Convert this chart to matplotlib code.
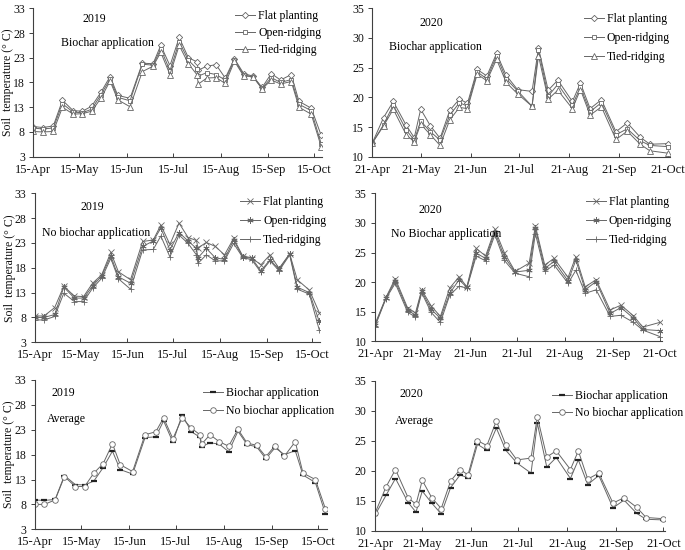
import matplotlib
matplotlib.use('Agg')
import matplotlib.pyplot as plt

plt.rcParams['font.family'] = ['Liberation Serif', 'DejaVu Serif']

# ---------------- data ----------------
# day offsets from 15-Apr (2019) and from 21-Apr (2020)
days_2019 = [0, 6, 13, 19, 26, 32, 38, 44, 50, 55, 63, 71, 78, 83, 89, 95, 101,
             106.5, 107.5, 113, 119, 125, 131, 137, 143, 149, 155, 161, 168, 173, 181, 187.5]
days_2020 = [0, 7, 13, 21, 26, 30, 36, 42, 48, 54, 59, 65, 71, 77, 83, 90, 99, 103,
             109, 115, 124, 129, 135, 142, 151, 158, 166, 172, 183]

tick_days = [0, 30, 61, 91, 122, 153, 183]
ticks_2019 = ['15-Apr', '15-May', '15-Jun', '15-Jul', '15-Aug', '15-Sep', '15-Oct']
ticks_2020 = ['21-Apr', '21-May', '21-Jun', '21-Jul', '21-Aug', '21-Sep', '21-Oct']

# 2019, biochar application
bc19_flat = [9.1, 8.9, 9.2, 14.4, 12.3, 12.2, 13.2, 16.0, 19.2, 15.4, 14.8, 21.9, 21.8, 25.5, 21.4, 27.1,
             23.0, 22.2, 20.5, 21.3, 21.6, 18.9, 22.8, 19.8, 19.3, 17.0, 19.8, 18.5, 19.6, 14.2, 12.8, 7.3]
bc19_open = [8.8, 8.6, 8.8, 13.7, 12.0, 11.9, 12.6, 15.5, 18.7, 15.0, 14.3, 21.7, 21.5, 24.8, 20.4, 26.2,
             22.5, 20.8, 19.3, 20.0, 19.6, 18.5, 22.6, 19.5, 19.2, 16.8, 19.0, 18.0, 18.6, 13.6, 12.3, 5.6]
bc19_tied = [8.1, 8.0, 8.1, 13.0, 11.6, 11.7, 12.2, 14.8, 18.3, 14.5, 13.1, 20.2, 21.3, 24.1, 19.6, 25.5,
             21.8, 19.6, 17.7, 18.9, 19.0, 17.8, 22.3, 19.3, 19.2, 16.7, 18.5, 17.7, 18.2, 13.0, 11.6, 5.0]

# 2019, no biochar application
nb19_flat = [8.3, 8.3, 10.0, 14.3, 12.3, 12.2, 14.9, 16.6, 21.1, 17.2, 15.6, 23.3, 23.6, 26.6, 22.7, 27.0,
             24.1, 23.5, 22.0, 23.1, 22.3, 20.6, 23.9, 20.4, 20.0, 18.6, 20.6, 17.9, 20.8, 15.6, 13.5, 9.0]
nb19_open = [8.0, 8.0, 8.6, 14.1, 11.9, 11.9, 14.3, 16.4, 20.4, 16.2, 14.9, 22.3, 23.4, 26.0, 21.6, 25.1,
             23.4, 21.9, 20.0, 21.9, 20.0, 19.7, 23.6, 20.2, 19.9, 17.4, 19.6, 17.7, 20.8, 14.1, 13.0, 7.2]
nb19_tied = [7.5, 7.5, 8.2, 12.9, 11.2, 11.2, 13.9, 15.9, 19.9, 15.8, 13.7, 21.6, 21.7, 24.4, 20.2, 24.6,
             22.9, 20.6, 18.9, 20.6, 19.4, 19.4, 22.9, 20.1, 19.6, 17.1, 19.4, 17.4, 20.6, 13.7, 12.7, 5.5]

# 2019 averages
avg19_bc = [8.9, 8.8, 9.0, 13.8, 12.0, 11.9, 12.7, 15.4, 18.7, 15.0, 14.1, 21.4, 21.6, 24.8, 20.5, 26.0,
            22.6, 21.5, 19.6, 20.4, 20.1, 18.6, 22.7, 20.0, 19.6, 17.2, 19.4, 18.0, 18.8, 13.9, 12.4, 6.1]
avg19_nb = [8.0, 8.0, 8.9, 13.6, 11.6, 11.6, 14.3, 16.2, 20.2, 16.0, 14.6, 22.0, 22.6, 25.4, 21.2, 25.4,
            23.3, 22.0, 20.1, 22.0, 20.6, 19.7, 23.1, 20.3, 19.9, 17.6, 19.8, 17.7, 20.6, 14.3, 13.0, 7.1]

# 2020, biochar application
bc20_flat = [12.3, 16.6, 19.3, 15.3, 13.2, 18.0, 15.2, 13.1, 17.8, 19.7, 19.0, 24.7, 23.6, 27.4, 23.7,
             21.3, 21.0, 28.3, 21.2, 22.9, 19.3, 22.4, 18.1, 19.6, 14.2, 15.7, 13.3, 12.1, 12.2]
bc20_open = [12.3, 15.4, 18.7, 14.5, 12.8, 16.0, 14.2, 12.8, 17.0, 19.1, 18.5, 24.3, 23.1, 27.0, 23.1,
             21.1, 18.5, 28.0, 20.2, 22.2, 18.7, 21.7, 17.6, 19.1, 13.7, 14.7, 12.7, 11.9, 11.7]
bc20_tied = [12.3, 15.2, 18.0, 13.7, 12.5, 15.5, 13.7, 11.9, 16.2, 18.3, 18.1, 23.9, 22.8, 26.4, 22.5,
             20.6, 18.5, 27.0, 19.7, 21.2, 18.1, 21.3, 17.0, 18.4, 12.9, 14.3, 12.1, 11.0, 10.6]

# 2020, no biochar application
nb20_flat = [12.9, 17.4, 20.6, 15.6, 14.8, 18.7, 16.0, 14.2, 19.0, 20.9, 19.2, 25.7, 24.4, 28.9, 25.0,
             21.8, 23.2, 29.5, 22.9, 24.0, 20.8, 24.3, 19.2, 20.4, 15.3, 16.1, 14.3, 12.4, 13.2]
nb20_open = [12.7, 17.3, 20.2, 15.3, 14.4, 18.5, 15.4, 13.9, 18.1, 20.4, 19.1, 24.9, 24.0, 28.5, 24.3,
             21.7, 22.0, 29.1, 22.3, 23.5, 20.2, 23.7, 18.7, 20.1, 14.7, 15.7, 13.9, 12.0, 11.8]
nb20_tied = [12.5, 17.2, 19.8, 14.9, 14.1, 18.2, 14.9, 13.2, 17.8, 19.3, 19.0, 24.4, 23.6, 28.0, 23.7,
             21.5, 20.9, 28.2, 21.8, 22.9, 19.8, 22.0, 18.1, 18.7, 14.2, 14.4, 13.2, 11.9, 10.8]

# 2020 averages
avg20_bc = [12.6, 15.9, 18.7, 14.7, 13.1, 16.6, 14.6, 12.8, 17.2, 19.3, 18.8, 24.4, 23.4, 27.1, 23.4,
            21.3, 19.6, 27.9, 20.6, 22.2, 18.7, 21.8, 17.7, 19.2, 13.8, 15.1, 12.9, 11.9, 11.8]
avg20_nb = [12.9, 17.3, 20.2, 15.5, 14.4, 18.4, 15.5, 13.7, 18.3, 20.2, 19.3, 25.0, 24.2, 28.3, 24.3,
            21.8, 22.1, 29.0, 22.3, 23.3, 20.2, 23.3, 18.6, 19.6, 14.6, 15.5, 13.9, 12.2, 12.0]

# ---------------- figure ----------------
W, H = 685, 550
fig = plt.figure(figsize=(W / 100, H / 100), dpi=100)
LC = '#666666'
AX = '#404040'


def make_ax(l, t, r, b):
    return fig.add_axes([l / W, 1 - b / H, (r - l) / W, (b - t) / H])


def style(ax, xlabels, xmax, ylo, yhi, ylabel):
    ax.set_xlim(0, xmax)
    ax.set_ylim(ylo, yhi)
    ax.set_xticks(tick_days)
    ax.set_xticklabels(xlabels)
    ax.set_yticks(range(ylo, yhi + 1, 5))
    for s in ['top', 'right']:
        ax.spines[s].set_visible(False)
    for s in ['left', 'bottom']:
        ax.spines[s].set_color(AX)
        ax.spines[s].set_linewidth(0.8)
    ax.tick_params(axis='x', direction='in', length=3, width=0.7, color=AX,
                   labelsize=9, pad=5, labelcolor='#111')
    ax.tick_params(axis='y', direction='out', length=3, width=0.7, color=AX,
                   labelsize=8.5, pad=3, labelcolor='#111')
    if ylabel:
        ax.set_ylabel('Soil  temperature (° C)', fontsize=8.5, color='#111')
        ax.yaxis.set_label_coords(-0.068, 0.5)


def series(ax, x, y, marker, label, ms=4.0, mec=LC, mfc='white', mew=0.6):
    ax.plot(x, y, color=LC, lw=0.7, marker=marker, ms=ms, mfc=mfc, mec=mec, mew=mew,
            label=label)


def legend(ax, x, y, spacing):
    ax.legend(loc='upper left', bbox_to_anchor=(x, y), frameon=False, fontsize=8.5,
              handlelength=1.7, handletextpad=0.25, labelspacing=spacing,
              borderpad=0, borderaxespad=0)


def notes(ax, year, yx, yy, txt, tx, ty):
    ax.text(yx, yy, year, transform=ax.transAxes, fontsize=8.5, ha='center', va='center')
    ax.text(tx, ty, txt, transform=ax.transAxes, fontsize=8.5, ha='left', va='center')


ast = (6, 2, 0)

# top-left
ax1 = make_ax(33.3, 8.3, 322, 156.7)
series(ax1, days_2019, bc19_flat, 'D', 'Flat planting', ms=3.2)
series(ax1, days_2019, bc19_open, 's', 'Open-ridging', ms=3.5)
series(ax1, days_2019, bc19_tied, '^', 'Tied-ridging', ms=3.8)
style(ax1, ticks_2019, 188, 3, 33, True)
legend(ax1, 0.70, 0.99, 0.42)
notes(ax1, '2019', 0.21, 0.93, 'Biochar application', 0.095, 0.764)

# top-right
ax2 = make_ax(372.3, 8.3, 670, 156.7)
series(ax2, days_2020, bc20_flat, 'D', 'Flat planting', ms=3.2)
series(ax2, days_2020, bc20_open, 's', 'Open-ridging', ms=3.5)
series(ax2, days_2020, bc20_tied, '^', 'Tied-ridging', ms=3.8)
style(ax2, ticks_2020, 184.5, 10, 35, False)
legend(ax2, 0.71, 0.97, 0.6)
notes(ax2, '2020', 0.2, 0.9, 'Biochar application', 0.057, 0.741)

# middle-left
ax3 = make_ax(35, 193.3, 320, 342.3)
series(ax3, days_2019, nb19_flat, 'x', 'Flat planting', ms=4.0)
series(ax3, days_2019, nb19_open, ast, 'Open-ridging', ms=4.5)
series(ax3, days_2019, nb19_tied, '+', 'Tied-ridging', ms=5.0)
style(ax3, ticks_2019, 188, 3, 33, True)
legend(ax3, 0.72, 0.98, 0.6)
notes(ax3, '2019', 0.2, 0.906, 'No biochar application', 0.023, 0.736)

# middle-right
ax4 = make_ax(375, 193.3, 661.5, 341.3)
series(ax4, days_2020, nb20_flat, 'x', 'Flat planting', ms=4.0)
series(ax4, days_2020, nb20_open, ast, 'Open-ridging', ms=4.5)
series(ax4, days_2020, nb20_tied, '+', 'Tied-ridging', ms=5.0)
style(ax4, ticks_2020, 184, 10, 35, False)
legend(ax4, 0.735, 0.98, 0.6)
notes(ax4, '2020', 0.194, 0.89, 'No Biochar application', 0.055, 0.725)

# bottom-left
ax5 = make_ax(35, 380, 327, 529.3)
series(ax5, days_2019, avg19_bc, '_', 'Biochar application', ms=4.5, mec='#222', mew=1.6)
series(ax5, days_2019, avg19_nb, 'o', 'No biochar application', ms=4.0)
style(ax5, ticks_2019, 188.5, 3, 33, True)
legend(ax5, 0.575, 0.95, 0.45)
notes(ax5, '2019', 0.097, 0.91, 'Average', 0.04, 0.737)

# bottom-right
ax6 = make_ax(375, 380.7, 665, 530.7)
series(ax6, days_2020, avg20_bc, '_', 'Biochar application', ms=4.5, mec='#222', mew=1.6)
series(ax6, days_2020, avg20_nb, 'o', 'No biochar application', ms=4.0)
style(ax6, ticks_2020, 184, 10, 35, False)
legend(ax6, 0.61, 0.94, 0.45)
notes(ax6, '2020', 0.127, 0.909, 'Average', 0.069, 0.733)

fig.savefig('out.png', dpi=100, facecolor='white')
